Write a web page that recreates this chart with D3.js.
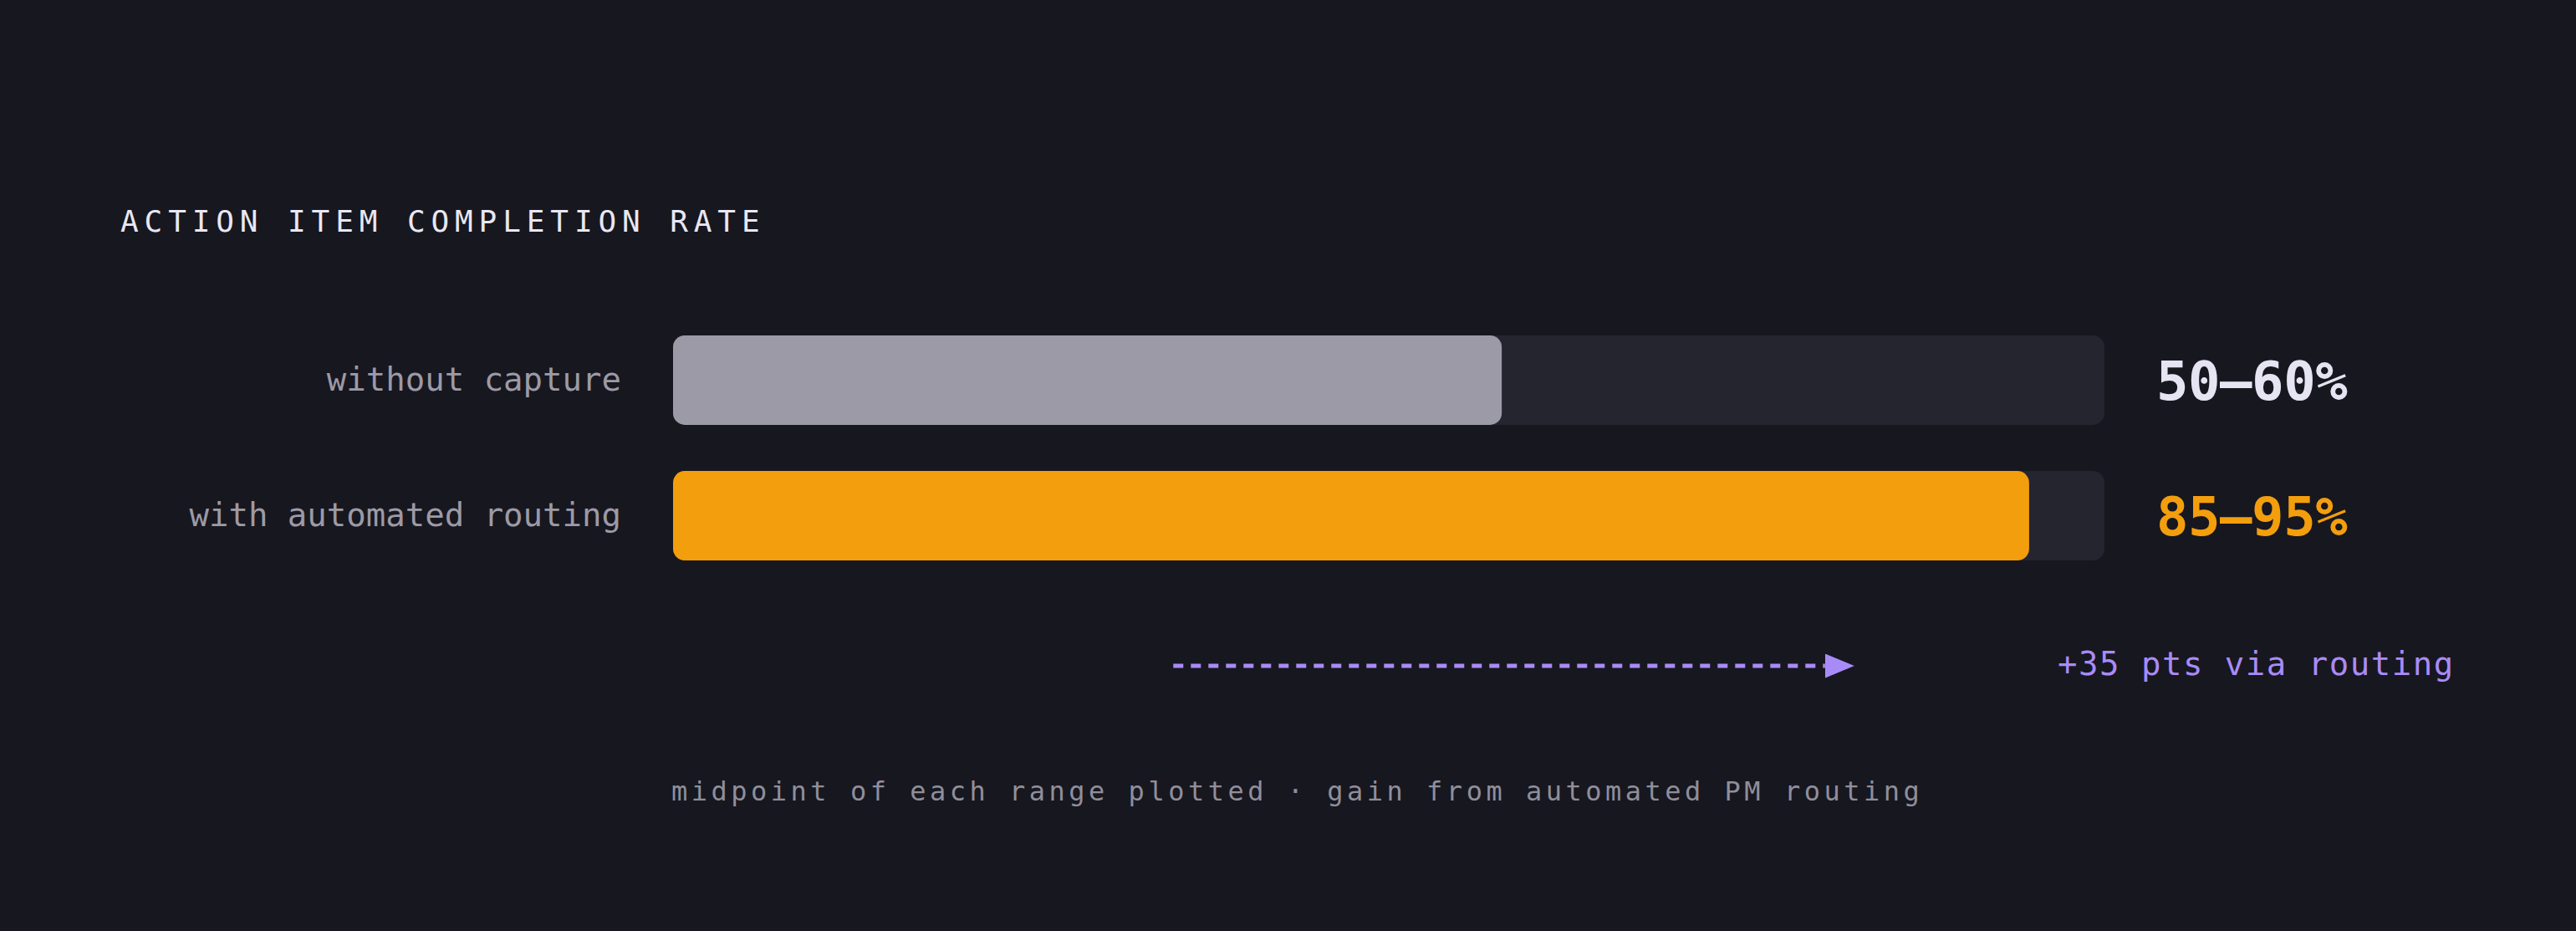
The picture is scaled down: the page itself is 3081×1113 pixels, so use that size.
<!DOCTYPE html>
<html>
<head>
<meta charset="utf-8">
<script src="https://cdn.jsdelivr.net/npm/d3@7"></script>
<style>
  html, body { margin: 0; padding: 0; background: #17171f; }
  svg { display: block; }
</style>
</head>
<body>
<svg id="chart"></svg>
<script>
// ---- data ----
const categories = ["without capture", "with automated routing"];
const lowValues = [50, 85];
const highValues = [60, 95];
const gainPoints = [35];
const arrowSpan = [33.2, 78.4];   // annotation arrow, in value units
const titleText = "ACTION ITEM COMPLETION RATE";
const annotationText = ["+35 pts via routing"];
const footnoteText = ["midpoint of each range plotted \u00b7 gain from automated PM routing"];

// ---- setup ----
const W = 3081, H = 1113;
const FONT = "'DejaVu Sans Mono', 'Liberation Mono', monospace";
const colors = {
  bg: "#17171f",
  track: "#25252f",
  bars: ["#9c9aa7", "#f39e0d"],
  values: ["#e6e4f2", "#f39e0d"],
  label: "#9c9aa6",
  title: "#e9e7f3",
  accent: "#a98bf7",
  foot: "#908e9b"
};

const svg = d3.select("#chart").attr("width", W).attr("height", H);
svg.append("rect").attr("width", W).attr("height", H).attr("fill", colors.bg);

const plotLeft = 805, plotRight = 2517;
const x = d3.scaleLinear().domain([0, d3.max(highValues)]).range([plotLeft, plotRight]);
const y = d3.scaleBand().domain(categories).range([401, 670]).paddingInner(0.34).paddingOuter(0);

const data = categories.map((c, i) => ({
  cat: c, lo: lowValues[i], hi: highValues[i], mid: (lowValues[i] + highValues[i]) / 2, i
}));

// title
svg.append("text")
  .attr("x", 144).attr("y", 277)
  .attr("font-family", FONT).attr("font-size", 36)
  .attr("letter-spacing", 6.9)
  .attr("fill", colors.title)
  .text(titleText);

const rows = svg.append("g").selectAll("g").data(data).join("g");

// track
rows.append("rect")
  .attr("x", x(0)).attr("y", d => y(d.cat))
  .attr("width", x(d3.max(highValues)) - x(0))
  .attr("height", y.bandwidth())
  .attr("rx", 14).attr("ry", 14)
  .attr("fill", colors.track);

// bar (midpoint)
rows.append("rect")
  .attr("x", x(0)).attr("y", d => y(d.cat))
  .attr("width", d => x(d.mid) - x(0))
  .attr("height", y.bandwidth())
  .attr("rx", 14).attr("ry", 14)
  .attr("fill", d => colors.bars[d.i]);

// category labels
rows.append("text")
  .attr("x", x(0) - 62)
  .attr("y", d => y(d.cat) + y.bandwidth() / 2)
  .attr("dy", "0.31em")
  .attr("text-anchor", "end")
  .attr("font-family", FONT).attr("font-size", 39)
  .attr("fill", colors.label)
  .text(d => d.cat);

// value labels
rows.append("text")
  .attr("x", x(d3.max(highValues)) + 62)
  .attr("y", d => y(d.cat) + y.bandwidth() / 2)
  .attr("dy", "0.36em")
  .attr("font-family", FONT).attr("font-size", 64).attr("font-weight", "bold")
  .attr("letter-spacing", -0.5)
  .attr("fill", d => colors.values[d.i])
  .text(d => `${d.lo}\u2013${d.hi}%`);

// gain arrow
const arrowY = 796;
svg.append("defs").append("marker")
  .attr("id", "tri")
  .attr("viewBox", "0 0 35 29")
  .attr("refX", 0).attr("refY", 14.5)
  .attr("markerWidth", 35).attr("markerHeight", 29)
  .attr("markerUnits", "userSpaceOnUse")
  .attr("orient", "auto")
  .append("path").attr("d", "M0,0 L35,14.5 L0,29 Z").attr("fill", colors.accent);

svg.append("line")
  .attr("x1", x(arrowSpan[0])).attr("x2", x(arrowSpan[1]) - 35)
  .attr("y1", arrowY).attr("y2", arrowY)
  .attr("stroke", colors.accent).attr("stroke-width", 5)
  .attr("stroke-dasharray", "12 9")
  .attr("marker-end", "url(#tri)");

svg.append("text")
  .attr("x", 2461).attr("y", 807)
  .attr("font-family", FONT).attr("font-size", 39)
  .attr("letter-spacing", 1.5)
  .attr("fill", colors.accent)
  .text(annotationText[0].replace("35", gainPoints[0]));

// footnote
svg.append("text")
  .attr("x", x(0) - 2).attr("y", 957)
  .attr("font-family", FONT).attr("font-size", 32)
  .attr("letter-spacing", 4.5)
  .attr("fill", colors.foot)
  .text(footnoteText[0]);
</script>
</body>
</html>
